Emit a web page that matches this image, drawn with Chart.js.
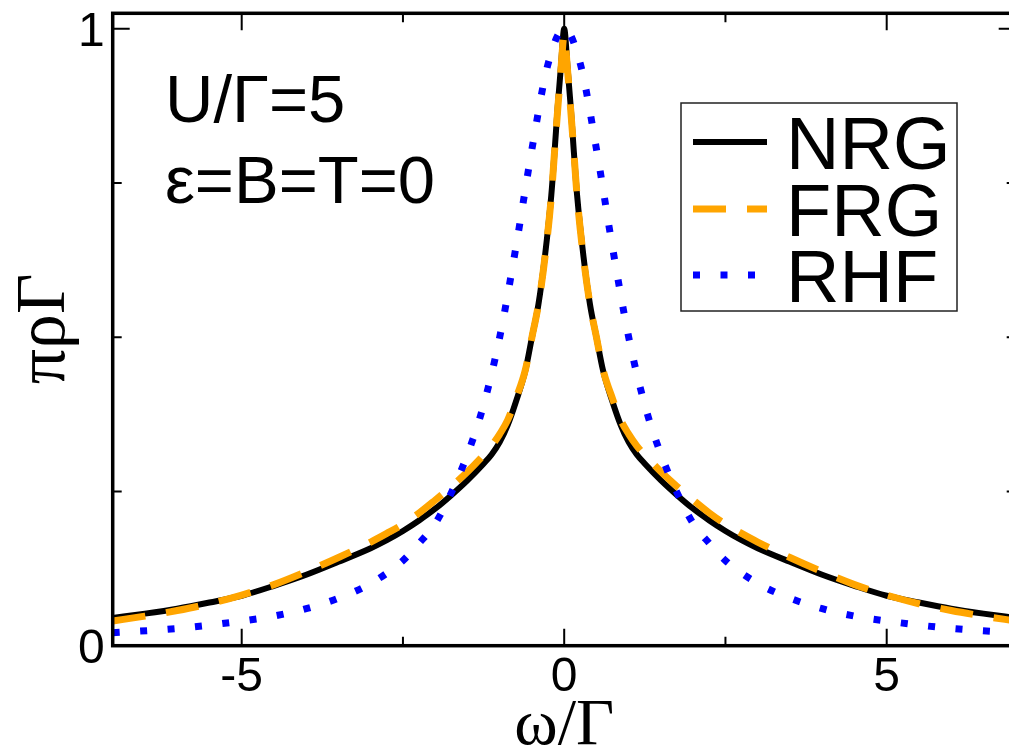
<!DOCTYPE html>
<html>
<head>
<meta charset="utf-8">
<script src="https://cdn.jsdelivr.net/npm/chart.js@4.4.1/dist/chart.umd.min.js"></script>
<style>
  html, body { margin: 0; padding: 0; background: #fff; overflow: hidden; }
  #wrap { width: 1009px; height: 746px; overflow: hidden; position: relative; }
  canvas { display: block; }
</style>
</head>
<body>
<div id="wrap"><canvas id="specChart" width="1030" height="760"></canvas></div>
<script>
// ── data ──
const omegaFine = [-7,-6.5,-6,-5.5,-5,-4.5,-4,-3.5,-3,-2.75,-2.5,-2.25,-2,-1.75,-1.5,-1.25,-1.125,-1,-0.875,-0.75,-0.6,-0.5,-0.4,-0.3,-0.2,-0.15,-0.1,-0.05,0,
                   0.05,0.1,0.15,0.2,0.3,0.4,0.5,0.6,0.75,0.875,1,1.125,1.25,1.5,1.75,2,2.25,2.5,2.75,3,3.5,4,4.5,5,5.5,6,6.5,7];
const nrgValues = [0.045,0.052,0.060,0.070,0.081,0.097,0.115,0.136,0.158,0.171,0.186,0.203,0.222,0.244,0.268,0.295,0.310,0.330,0.358,0.395,0.447,0.500,0.553,0.630,0.730,0.800,0.875,0.940,1.000,
                   0.940,0.875,0.800,0.730,0.630,0.553,0.500,0.447,0.395,0.358,0.330,0.310,0.295,0.268,0.244,0.222,0.203,0.186,0.171,0.158,0.136,0.115,0.097,0.081,0.070,0.060,0.052,0.045];
const frgValues = [0.040,0.048,0.057,0.068,0.082,0.099,0.120,0.143,0.168,0.182,0.197,0.215,0.236,0.258,0.282,0.309,0.324,0.343,0.366,0.400,0.448,0.500,0.553,0.628,0.728,0.800,0.870,0.935,0.990,
                   0.935,0.870,0.800,0.728,0.628,0.553,0.500,0.448,0.400,0.366,0.343,0.324,0.309,0.282,0.258,0.236,0.215,0.197,0.182,0.168,0.143,0.120,0.099,0.082,0.068,0.057,0.048,0.040];
const omegaRhf  = [-7,-6,-5,-4.5,-4,-3.5,-3,-2.5,-2.25,-2,-1.75,-1.5,-1.25,-1,-0.75,-0.5,-0.25,0,
                   0.25,0.5,0.75,1,1.25,1.5,1.75,2,2.25,2.5,3,3.5,4,4.5,5,6,7];
const rhfValues = [0.021,0.028,0.040,0.048,0.060,0.077,0.101,0.138,0.166,0.198,0.248,0.310,0.390,0.500,0.645,0.805,0.943,1.000,
                   0.943,0.805,0.645,0.500,0.390,0.310,0.248,0.198,0.166,0.138,0.101,0.077,0.060,0.048,0.040,0.028,0.021];

const xMajor = [-5, 0, 5];
const xMinor = [-2.5, 2.5];
const yMajor = [0, 1];
const yMinor = [0.25, 0.5, 0.75];
const seriesNames = ['NRG', 'FRG', 'RHF'];

const toPoints = (xs, ys) => xs.map((x, i) => ({ x, y: ys[i] }));

const SANS = '"Liberation Sans", Arial, sans-serif';
const SERIF = '"Liberation Serif", "Times New Roman", serif';

// ── frame, ticks, labels, legend ──
const decorPlugin = {
  id: 'decor',
  afterDraw(chart) {
    const { ctx, chartArea: a, scales: { x, y } } = chart;
    ctx.save();
    ctx.strokeStyle = '#000';

    // ticks on all four sides, pointing inwards
    const tickX = (vals, len) => {
      ctx.lineWidth = 2;
      ctx.beginPath();
      vals.forEach(v => {
        const px = x.getPixelForValue(v);
        ctx.moveTo(px, a.bottom); ctx.lineTo(px, a.bottom - len);
        ctx.moveTo(px, a.top);    ctx.lineTo(px, a.top + len);
      });
      ctx.stroke();
    };
    const tickY = (vals, len) => {
      ctx.lineWidth = 2;
      ctx.beginPath();
      vals.forEach(v => {
        const py = y.getPixelForValue(v);
        ctx.moveTo(a.left, py);  ctx.lineTo(a.left + len, py);
        ctx.moveTo(a.right, py); ctx.lineTo(a.right - len, py);
      });
      ctx.stroke();
    };
    tickX(xMajor, 17); tickX(xMinor, 9);
    tickY(yMajor, 17); tickY(yMinor, 9);

    // frame
    ctx.lineWidth = 3.5;
    ctx.strokeRect(a.left, a.top, a.right - a.left, a.bottom - a.top);

    // tick labels
    ctx.fillStyle = '#000';
    ctx.font = '48px ' + SANS;
    ctx.textAlign = 'center';
    ctx.textBaseline = 'alphabetic';
    xMajor.forEach(v => ctx.fillText(String(v), x.getPixelForValue(v), a.bottom + 45));
    ctx.textAlign = 'right';
    yMajor.forEach(v => ctx.fillText(String(v), a.left - 8, y.getPixelForValue(v) + 17));

    // axis titles
    ctx.font = '66px ' + SERIF;
    ctx.textAlign = 'center';
    ctx.fillText('ω/Γ', x.getPixelForValue(0), 744);
    ctx.save();
    ctx.translate(64, 329);
    ctx.rotate(-Math.PI / 2);
    ctx.font = '70px ' + SERIF;
    ctx.fillText('πρΓ', 0, 0);
    ctx.restore();

    // annotation
    ctx.font = '67px ' + SANS;
    ctx.textAlign = 'left';
    ctx.fillText('U/Γ=5', 165, 122);
    ctx.fillText('ε=B=T=0', 165, 203);

    // legend box
    ctx.lineWidth = 1.5;
    ctx.strokeStyle = '#222';
    ctx.strokeRect(681, 103, 276, 208);
    const rows = [142, 209, 275];
    chart.data.datasets.forEach((ds, i) => {
      ctx.save();
      ctx.strokeStyle = ds.borderColor;
      ctx.lineWidth = ds.borderWidth;
      ctx.lineCap = 'butt';
      ctx.setLineDash(ds.borderDash || []);
      ctx.beginPath();
      ctx.moveTo(693, rows[i]);
      ctx.lineTo(767, rows[i]);
      ctx.stroke();
      ctx.restore();
      ctx.font = '74px ' + SANS;
      ctx.fillStyle = '#000';
      ctx.fillText(ds.label, 786, rows[i] + 27);
    });
    ctx.restore();
  }
};

new Chart(document.getElementById('specChart').getContext('2d'), {
  type: 'line',
  data: {
    datasets: [
      {
        label: seriesNames[0], data: toPoints(omegaFine, nrgValues),
        borderColor: '#000000', borderWidth: 6, order: 3,
      },
      {
        label: seriesNames[1], data: toPoints(omegaFine, frgValues),
        borderColor: '#ffa500', borderWidth: 7, borderDash: [33, 21], order: 2,
      },
      {
        label: seriesNames[2], data: toPoints(omegaRhf, rhfValues),
        borderColor: '#0000ff', borderWidth: 7, borderDash: [7, 20.5], order: 1,
      }
    ]
  },
  options: {
    responsive: false,
    animation: false,
    devicePixelRatio: 1,
    layout: { padding: { left: 112.7, top: 13.3, right: 14.3, bottom: 114.3 } },
    elements: {
      point: { radius: 0 },
      line: { cubicInterpolationMode: 'monotone', fill: false, borderCapStyle: 'butt' }
    },
    plugins: { legend: { display: false }, tooltip: { enabled: false } },
    scales: {
      x: { type: 'linear', min: -7, max: 7, display: false },
      y: { type: 'linear', min: 0, max: 1.025, display: false }
    }
  },
  plugins: [decorPlugin]
});
</script>
</body>
</html>
